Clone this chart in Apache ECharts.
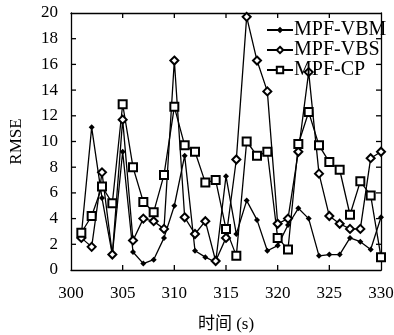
<!DOCTYPE html>
<html>
<head>
<meta charset="utf-8">
<style>
  html, body { margin: 0; padding: 0; background: #fff; }
  #chart { width: 394px; height: 335px; }
</style>
<script src="https://cdn.jsdelivr.net/npm/echarts@6/dist/echarts.min.js"></script>
</head>
<body>
<div id="chart"></div>
<script>
// Time stamps (s)
const times = [301, 302, 303, 304, 305, 306, 307, 308, 309, 310,
               311, 312, 313, 314, 315, 316, 317, 318, 319, 320,
               321, 322, 323, 324, 325, 326, 327, 328, 329, 330];

// RMSE of each filter
const vbm = [2.7, 11.1, 5.6, 1.2, 9.2, 1.4, 0.5, 0.8, 2.5, 5.0,
             8.9, 1.5, 1.0, 0.6, 7.3, 2.8, 5.4, 3.9, 1.5, 1.9,
             3.5, 4.8, 4.0, 1.1, 1.2, 1.2, 2.5, 2.2, 1.6, 4.1];
const vbs = [2.5, 1.8, 7.6, 1.2, 11.7, 2.3, 4.0, 3.8, 3.2, 16.3,
             4.1, 2.8, 3.8, 0.7, 2.5, 8.6, 19.7, 16.3, 13.9, 3.6,
             4.0, 9.2, 15.4, 7.5, 4.2, 3.6, 3.2, 3.2, 8.7, 9.2];
const cp  = [2.9, 4.2, 6.5, 5.2, 12.9, 8.0, 5.3, 4.5, 7.4, 12.7,
             9.7, 9.2, 6.8, 7.0, 3.2, 1.1, 10.0, 8.9, 9.2, 2.5,
             1.6, 9.8, 12.3, 9.7, 8.4, 7.8, 4.3, 6.9, 5.8, 1.0];

// Tick values of both axes
const xTickValues = [300, 305, 310, 315, 320, 325, 330];
const yTickValues = [0, 2, 4, 6, 8, 10, 12, 14, 16, 18, 20];

const serif = '"Liberation Serif", "DejaVu Serif", "Noto Sans CJK SC", serif';

function pairs(ys) { return times.map((t, i) => [t, ys[i]]); }

const xMin = xTickValues[0], xMax = xTickValues[xTickValues.length - 1];
const yMin = yTickValues[0], yMax = yTickValues[yTickValues.length - 1];

const lineBase = {
  type: 'line',
  lineStyle: { color: '#000', width: 1.3 },
  itemStyle: { color: '#000', borderWidth: 1.2 },
  showAllSymbol: true,
  animation: false,
  z: 3
};

// Box frame; tick marks are added as graphics below
function frameAxis(extra) {
  return Object.assign({
    axisLine: { show: true, onZero: false, lineStyle: { color: '#000', width: 1.3 } },
    axisTick: { show: false },
    splitLine: { show: false }
  }, extra);
}

const chart = echarts.init(document.getElementById('chart'), null, { renderer: 'canvas' });

chart.setOption({
  backgroundColor: '#fff',
  animation: false,
  grid: { left: 71, right: 13, top: 13, bottom: 65, outerBoundsMode: 'none', containLabel: false },
  legend: {
    orient: 'vertical',
    left: 261,
    top: 15,
    itemWidth: 26,
    itemHeight: 8,
    itemGap: 0,
    textStyle: { fontFamily: serif, fontSize: 20, color: '#000', lineHeight: 19, padding: [0, 0, 0, -4] },
    data: ['MPF-VBM', 'MPF-VBS', 'MPF-CP']
  },
  xAxis: [
    frameAxis({
      type: 'value', position: 'bottom',
      min: xMin, max: xMax, interval: xTickValues[1] - xTickValues[0],
      name: '时间 (s)', nameLocation: 'middle', nameGap: 46,
      nameTextStyle: { fontFamily: serif, fontSize: 17, color: '#000' },
      axisLabel: { fontFamily: serif, fontSize: 17, color: '#000', margin: 15 }
    }),
    frameAxis({
      type: 'value', position: 'top',
      min: xMin, max: xMax, interval: xTickValues[1] - xTickValues[0],
      axisLabel: { show: false }
    })
  ],
  yAxis: [
    frameAxis({
      type: 'value', position: 'left',
      min: yMin, max: yMax, interval: yTickValues[1] - yTickValues[0],
      name: 'RMSE', nameLocation: 'middle', nameGap: 46,
      nameTextStyle: { fontFamily: serif, fontSize: 17, color: '#000' },
      axisLabel: { fontFamily: serif, fontSize: 17, color: '#000', margin: 13 }
    }),
    frameAxis({
      type: 'value', position: 'right',
      min: yMin, max: yMax, interval: yTickValues[1] - yTickValues[0],
      axisLabel: { show: false }
    })
  ],
  series: [
    Object.assign({}, lineBase, {
      name: 'MPF-VBM', data: pairs(vbm),
      symbol: 'diamond', symbolSize: 6
    }),
    Object.assign({}, lineBase, {
      name: 'MPF-VBS', data: pairs(vbs),
      symbol: 'emptyDiamond', symbolSize: 8
    }),
    Object.assign({}, lineBase, {
      name: 'MPF-CP', data: pairs(cp),
      symbol: 'emptyRect', symbolSize: 8
    })
  ]
});

// Inward tick marks on all four sides of the frame, placed through the axes' scales
(function addFrameTicks() {
  const tickLen = 5;
  const xLeft = chart.convertToPixel({ xAxisIndex: 0 }, xMin);
  const xRight = chart.convertToPixel({ xAxisIndex: 0 }, xMax);
  const yBottom = chart.convertToPixel({ yAxisIndex: 0 }, yMin);
  const yTop = chart.convertToPixel({ yAxisIndex: 0 }, yMax);
  const tickStyle = { stroke: '#000', lineWidth: 1.3 };
  const marks = [];
  xTickValues.slice(1, -1).forEach(v => {
    const px = chart.convertToPixel({ xAxisIndex: 0 }, v);
    marks.push({ type: 'line', silent: true, z: 10, shape: { x1: px, y1: yBottom, x2: px, y2: yBottom - tickLen }, style: tickStyle });
    marks.push({ type: 'line', silent: true, z: 10, shape: { x1: px, y1: yTop, x2: px, y2: yTop + tickLen }, style: tickStyle });
  });
  yTickValues.slice(1, -1).forEach(v => {
    const py = chart.convertToPixel({ yAxisIndex: 0 }, v);
    marks.push({ type: 'line', silent: true, z: 10, shape: { x1: xLeft, y1: py, x2: xLeft + tickLen, y2: py }, style: tickStyle });
    marks.push({ type: 'line', silent: true, z: 10, shape: { x1: xRight, y1: py, x2: xRight - tickLen, y2: py }, style: tickStyle });
  });
  chart.setOption({ graphic: marks });
})();
</script>
</body>
</html>
